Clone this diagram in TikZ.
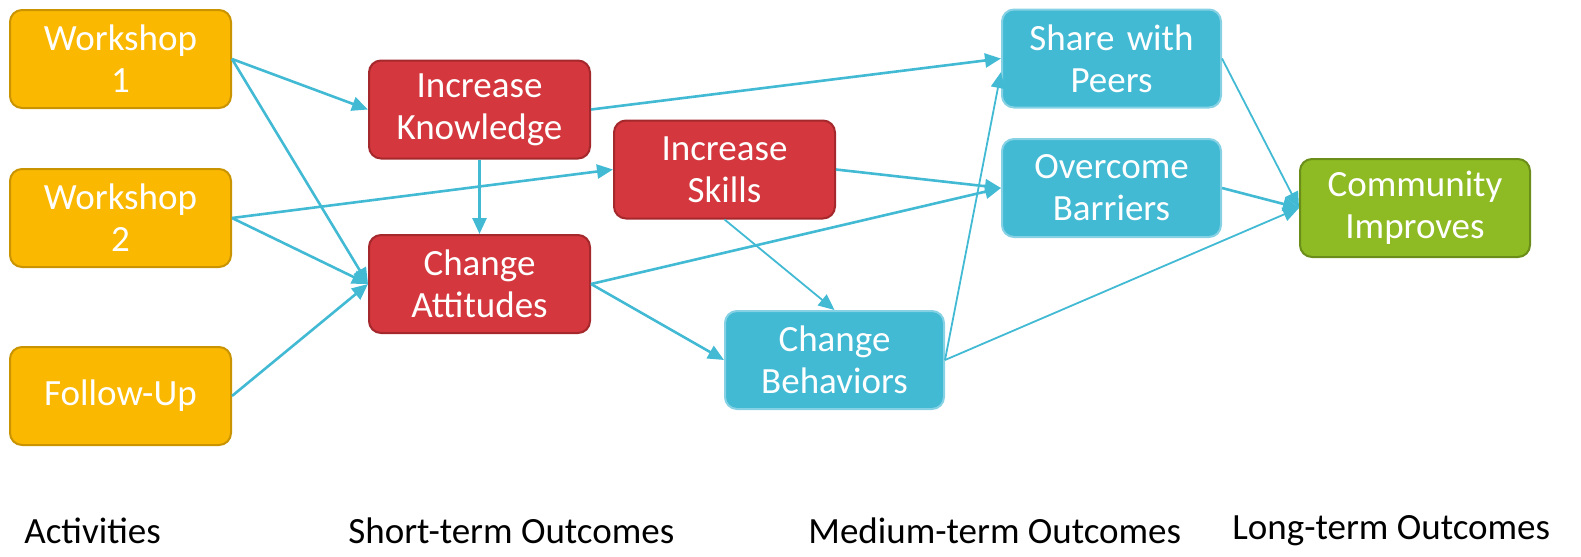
\documentclass[tikz,border=0pt]{standalone}
\usepackage{fontspec}
\setmainfont{Carlito}
\usetikzlibrary{arrows.meta}
\definecolor{actF}{HTML}{FAB800}
\definecolor{actD}{HTML}{C99400}
\definecolor{shortF}{HTML}{D4373D}
\definecolor{shortD}{HTML}{A4282C}
\definecolor{medF}{HTML}{42BAD4}
\definecolor{medD}{HTML}{86D2E4}
\definecolor{longF}{HTML}{8EBB23}
\definecolor{longD}{HTML}{6A8E19}
\definecolor{linkC}{HTML}{42BAD4}
\tikzset{
  box/.style={draw=#1D, fill=#1F, line width=1pt, rounded corners=6pt,
    minimum height=49pt, text width=100pt, align=center, text=white,
    inner sep=0pt, font=\fontsize{18.5}{21}\selectfont},
  link/.style={draw=linkC, line width=1.3pt, -{Triangle[length=8pt,width=7pt]}},
  thin link/.style={link, line width=0.9pt},
  phase/.style={anchor=west, inner sep=0pt, font=\fontsize{18.5}{21}\selectfont}
}
\begin{document}
\begin{tikzpicture}[x=0.5pt,y=-0.5pt]
  \useasboundingbox (0,0) rectangle (1581,557);
  \foreach \n/\x/\y/\c/\w/\t in {
    % activities
    W1/120.5/59/act/110.5/{Workshop\\1},
    W2/120.5/218/act/110.5/{Workshop\\2},
    FU/120.5/396/act/110.5/{Follow-Up},
    % short-term
    IK/479.5/109.5/short/110.5/{Increase\\Knowledge},
    CA/479.5/284/short/110.5/{Change\\Attitudes},
    IS/724.5/169.5/short/110.5/{Increase\\Skills},
    % medium-term
    CB/834.5/360/med/109.5/{Change\\Behaviors},
    SP/1111.5/58.5/med/109.5/{Share with\\Peers},
    OB/1111.5/188/med/109.5/{Overcome\\Barriers},
    % long-term
    CI/1415/208/long/115/{Community\\Improves}
  } { \node[box=\c, minimum width=\w pt] (\n) at (\x,\y) {\t}; }

  % phases
  \node[phase] (pAct) at (24,531) {Activities};
  \node[phase] (pShort) at (348,531) {Short-term Outcomes};
  \node[phase] (pMed) at (808,531) {Medium-term Outcomes};
  \node[phase] (pLong) at (1232,531) {Long-term Outcomes};

  % connections
  \foreach \a/\b in {
    W1.east/IK.west,
    W1.east/CA.west,
    W2.east/IS.west,
    W2.east/CA.west,
    FU.east/CA.west,
    IK.south/CA.north,
    IK.east/SP.west,
    IS.east/OB.west,
    CA.east/OB.west,
    CA.east/CB.west,
    OB.east/CI.west%
  } { \draw[link] (\a) -- (\b); }
  \foreach \a/\b in {
    IS.south/CB.north,
    CB.east/SP.187,
    CB.east/CI.west,
    SP.east/CI.west%
  } { \draw[thin link] (\a) -- (\b); }
\end{tikzpicture}
\end{document}
